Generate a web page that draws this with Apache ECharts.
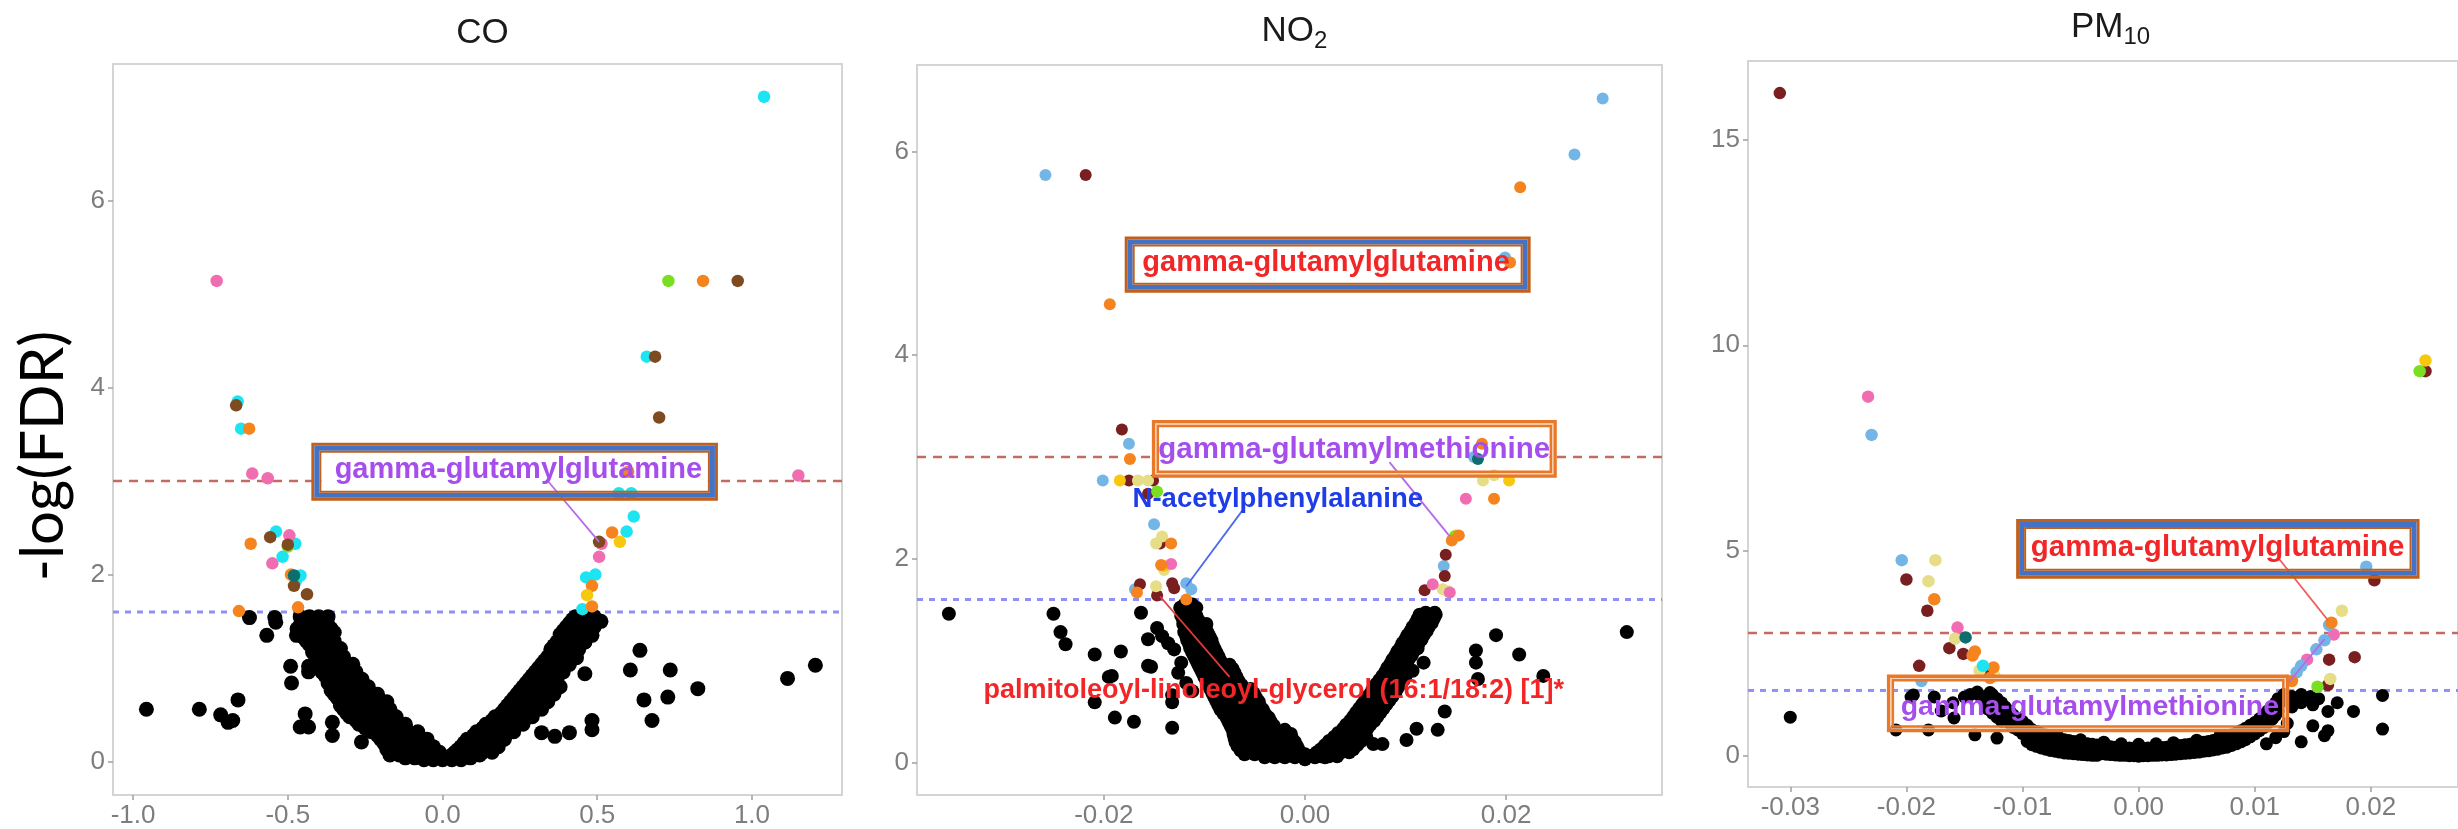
<!DOCTYPE html>
<html>
<head>
<meta charset="utf-8">
<script src="https://cdn.jsdelivr.net/npm/echarts@6/dist/echarts.min.js"></script>
<style>html,body{margin:0;padding:0;background:#fff;}#chart{width:2458px;height:829px;}</style>
</head>
<body>
<div id="chart"></div>
<script>
// ================= DATA =================
const titleParts = [['CO', ''], ['NO', '2'], ['PM', '10']];
const yAxisTitle = '-log(FDR)';
const coXTicks = [-1.0, -0.5, 0.0, 0.5, 1.0];
const coYTicks = [0, 2, 4, 6];
const no2XTicks = [-0.02, 0.00, 0.02];
const no2YTicks = [0, 2, 4, 6];
const pmXTicks = [-0.03, -0.02, -0.01, 0.00, 0.01, 0.02];
const pmYTicks = [0, 5, 10, 15];
const fdrThreshold = 3.0;
const pThreshold = 1.6;

// ---- CO ----
const coBlack = [
[-0.46,1.55],[-0.43,1.55],[-0.40,1.55],[-0.37,1.55],
[-0.45,1.50],[-0.42,1.50],[-0.39,1.50],
[-0.46,1.46],[-0.43,1.46],[-0.40,1.46],[-0.37,1.46],
[-0.47,1.42],[-0.44,1.42],[-0.41,1.42],[-0.38,1.42],[-0.36,1.42],
[-0.46,1.38],[-0.43,1.38],[-0.40,1.38],[-0.37,1.38],[-0.35,1.38],
[-0.45,1.33],[-0.42,1.33],[-0.39,1.33],[-0.36,1.33],
[-0.44,1.29],[-0.41,1.29],[-0.38,1.29],[-0.35,1.29],
[-0.43,1.25],[-0.40,1.25],[-0.37,1.25],[-0.35,1.25],
[-0.42,1.21],[-0.39,1.21],[-0.36,1.21],[-0.33,1.21],
[-0.42,1.17],[-0.39,1.17],[-0.36,1.17],[-0.34,1.17],
[-0.41,1.12],[-0.38,1.12],[-0.35,1.12],[-0.32,1.12],
[-0.40,1.08],[-0.37,1.08],[-0.34,1.08],[-0.32,1.08],
[-0.40,1.04],[-0.37,1.04],[-0.34,1.04],[-0.31,1.04],[-0.29,1.04],
[-0.39,1.00],[-0.36,1.00],[-0.33,1.00],[-0.31,1.00],
[-0.39,0.96],[-0.36,0.96],[-0.33,0.96],[-0.30,0.96],[-0.28,0.96],
[-0.38,0.92],[-0.35,0.92],[-0.32,0.92],[-0.30,0.92],
[-0.37,0.88],[-0.34,0.88],[-0.31,0.88],[-0.28,0.88],[-0.26,0.88],
[-0.37,0.84],[-0.34,0.84],[-0.31,0.84],[-0.28,0.84],
[-0.36,0.80],[-0.33,0.80],[-0.30,0.80],[-0.27,0.80],[-0.24,0.80],
[-0.36,0.76],[-0.33,0.76],[-0.30,0.76],[-0.27,0.76],[-0.25,0.76],
[-0.35,0.72],[-0.32,0.72],[-0.29,0.72],[-0.26,0.72],[-0.23,0.72],[-0.21,0.72],
[-0.34,0.68],[-0.31,0.68],[-0.28,0.68],[-0.25,0.68],[-0.22,0.68],
[-0.33,0.64],[-0.30,0.64],[-0.27,0.64],[-0.24,0.64],[-0.21,0.64],[-0.18,0.64],
[-0.33,0.60],[-0.30,0.60],[-0.27,0.60],[-0.24,0.60],[-0.20,0.60],
[-0.32,0.56],[-0.29,0.56],[-0.26,0.56],[-0.23,0.56],[-0.20,0.56],[-0.17,0.56],
[-0.31,0.52],[-0.28,0.52],[-0.25,0.52],[-0.22,0.52],[-0.18,0.52],
[-0.30,0.48],[-0.27,0.48],[-0.24,0.48],[-0.21,0.48],[-0.18,0.48],[-0.15,0.48],
[-0.28,0.44],[-0.25,0.44],[-0.22,0.44],[-0.19,0.44],[-0.15,0.44],
[-0.27,0.40],[-0.24,0.40],[-0.21,0.40],[-0.18,0.40],[-0.15,0.40],[-0.12,0.40],
[-0.25,0.36],[-0.22,0.36],[-0.19,0.36],[-0.16,0.36],[-0.12,0.36],
[-0.23,0.32],[-0.20,0.32],[-0.17,0.32],[-0.14,0.32],[-0.11,0.32],[-0.08,0.32],
[-0.21,0.28],[-0.18,0.28],[-0.15,0.28],[-0.12,0.28],[-0.09,0.28],
[-0.20,0.24],[-0.17,0.24],[-0.14,0.24],[-0.11,0.24],[-0.08,0.24],[-0.05,0.24],
[-0.19,0.20],[-0.16,0.20],[-0.13,0.20],[-0.10,0.20],[-0.07,0.20],
[-0.18,0.16],[-0.15,0.16],[-0.12,0.16],[-0.09,0.16],[-0.06,0.16],[-0.03,0.16],
[-0.18,0.13],[-0.15,0.13],[-0.12,0.13],[-0.09,0.13],[-0.06,0.13],[-0.04,0.13],
[-0.16,0.10],[-0.13,0.10],[-0.10,0.10],[-0.07,0.10],[-0.04,0.10],[-0.01,0.10],
[-0.17,0.07],[-0.14,0.07],[-0.11,0.07],[-0.08,0.07],[-0.05,0.07],[-0.03,0.07],
[-0.12,0.04],[-0.09,0.04],[-0.06,0.04],[-0.03,0.04],[0.00,0.04],[0.03,0.04],[0.06,0.04],[0.09,0.04],
[-0.06,0.02],[-0.03,0.02],[0.00,0.02],[0.03,0.02],[0.06,0.02],
[0.43,1.55],[0.46,1.55],[0.49,1.55],
[0.42,1.52],[0.45,1.52],[0.48,1.52],
[0.41,1.48],[0.44,1.48],[0.47,1.48],
[0.40,1.44],[0.43,1.44],[0.46,1.44],[0.49,1.44],
[0.39,1.40],[0.42,1.40],[0.45,1.40],
[0.38,1.36],[0.41,1.36],[0.44,1.36],[0.47,1.36],
[0.38,1.32],[0.41,1.32],[0.44,1.32],
[0.37,1.28],[0.40,1.28],[0.43,1.28],[0.46,1.28],
[0.36,1.24],[0.39,1.24],[0.42,1.24],
[0.35,1.20],[0.38,1.20],[0.41,1.20],[0.44,1.20],
[0.35,1.16],[0.38,1.16],[0.41,1.16],
[0.34,1.12],[0.37,1.12],[0.40,1.12],[0.43,1.12],
[0.33,1.08],[0.36,1.08],[0.39,1.08],
[0.32,1.04],[0.35,1.04],[0.38,1.04],[0.41,1.04],
[0.31,1.00],[0.34,1.00],[0.37,1.00],
[0.30,0.96],[0.33,0.96],[0.36,0.96],[0.39,0.96],
[0.29,0.92],[0.32,0.92],[0.35,0.92],
[0.28,0.88],[0.31,0.88],[0.34,0.88],[0.37,0.88],
[0.27,0.84],[0.30,0.84],[0.33,0.84],[0.36,0.84],
[0.26,0.80],[0.29,0.80],[0.32,0.80],[0.35,0.80],[0.38,0.80],
[0.25,0.76],[0.28,0.76],[0.31,0.76],[0.34,0.76],
[0.24,0.72],[0.27,0.72],[0.30,0.72],[0.33,0.72],[0.36,0.72],
[0.23,0.68],[0.26,0.68],[0.29,0.68],[0.32,0.68],
[0.22,0.64],[0.25,0.64],[0.28,0.64],[0.31,0.64],[0.34,0.64],
[0.21,0.60],[0.24,0.60],[0.27,0.60],[0.30,0.60],
[0.20,0.56],[0.23,0.56],[0.26,0.56],[0.29,0.56],[0.32,0.56],
[0.19,0.52],[0.22,0.52],[0.25,0.52],[0.28,0.52],
[0.17,0.48],[0.20,0.48],[0.23,0.48],[0.26,0.48],[0.29,0.48],
[0.16,0.44],[0.19,0.44],[0.22,0.44],[0.25,0.44],
[0.14,0.40],[0.17,0.40],[0.20,0.40],[0.23,0.40],[0.26,0.40],
[0.13,0.36],[0.16,0.36],[0.19,0.36],[0.22,0.36],
[0.11,0.32],[0.14,0.32],[0.17,0.32],[0.20,0.32],[0.23,0.32],
[0.10,0.28],[0.13,0.28],[0.16,0.28],[0.19,0.28],
[0.08,0.24],[0.11,0.24],[0.14,0.24],[0.17,0.24],[0.20,0.24],
[0.07,0.20],[0.10,0.20],[0.13,0.20],[0.16,0.20],
[0.06,0.16],[0.09,0.16],[0.12,0.16],[0.15,0.16],[0.18,0.16],
[0.05,0.13],[0.08,0.13],[0.11,0.13],[0.14,0.13],
[0.04,0.10],[0.07,0.10],[0.10,0.10],[0.13,0.10],[0.16,0.10],
[0.03,0.07],[0.06,0.07],[0.09,0.07],[0.12,0.07],
[-0.957,0.56],[-0.786,0.56],[-0.717,0.50],[-0.693,0.42],[-0.678,0.44],[-0.661,0.66],[-0.624,1.54],[-0.568,1.35],
[-0.542,1.54],[-0.539,1.49],[-0.491,1.02],[-0.488,0.84],[-0.433,1.02],[-0.433,0.96],[-0.472,1.35],
[-0.46,0.37],[-0.433,0.37],[-0.444,0.51],[-0.356,0.42],[-0.356,0.28],[-0.262,0.21],
[0.512,1.50],[0.483,1.35],[0.429,1.26],[0.46,1.28],[0.433,1.11],[0.46,0.94],[0.483,0.44],[0.483,0.34],
[0.41,0.31],[0.363,0.27],[0.32,0.31],[0.638,1.19],[0.607,0.98],[0.736,0.98],[0.651,0.66],[0.728,0.69],
[0.677,0.44],[0.825,0.78],[1.115,0.89],[1.205,1.03]
];
const coCyan = [[1.039,7.11],[0.660,4.33],[-0.662,3.85],[-0.651,3.56],[0.57,2.87],[0.61,2.87],[0.618,2.62],[0.595,2.46],
[-0.538,2.46],[-0.476,2.33],[-0.517,2.19],[-0.459,1.99],[-0.473,1.94],[0.464,1.97],[0.494,2.0],[0.452,1.63]];
const coPink = [[-0.730,5.14],[-0.615,3.08],[-0.565,3.03],[1.15,3.06],[-0.495,2.42],[-0.55,2.12],[0.514,2.33],[0.506,2.19]];
const coGreen = [[0.730,5.14],[-0.50,2.30]];
const coOrange = [[0.842,5.14],[-0.625,3.56],[-0.62,2.33],[0.60,3.10],[0.548,2.45],[-0.49,2.0],[0.483,1.88],[0.483,1.66],[-0.467,1.65],[-0.658,1.61]];
const coBrown = [[0.954,5.14],[0.687,4.33],[0.700,3.68],[-0.667,3.81],[-0.557,2.40],[-0.50,2.32],[-0.48,1.88],[-0.438,1.79],[0.506,2.35]];
const coYellow = [[0.573,2.35],[0.467,1.78]];
const coTeal = [[-0.48,1.99]];

// ---- NO2 ----
const no2Black = [
[-0.0120,1.55],[-0.0112,1.55],
[-0.0124,1.52],[-0.0116,1.52],[-0.0108,1.52],
[-0.0122,1.48],[-0.0114,1.48],
[-0.0123,1.44],[-0.0115,1.44],[-0.0108,1.44],
[-0.0121,1.40],[-0.0113,1.40],[-0.0106,1.40],
[-0.0121,1.36],[-0.0113,1.36],[-0.0105,1.36],[-0.0098,1.36],
[-0.0119,1.32],[-0.0111,1.32],[-0.0104,1.32],
[-0.0120,1.28],[-0.0112,1.28],[-0.0104,1.28],[-0.0097,1.28],
[-0.0118,1.24],[-0.0110,1.24],[-0.0102,1.24],[-0.0095,1.24],
[-0.0117,1.20],[-0.0109,1.20],[-0.0101,1.20],[-0.0093,1.20],
[-0.0115,1.16],[-0.0107,1.16],[-0.0099,1.16],[-0.0092,1.16],
[-0.0114,1.12],[-0.0106,1.12],[-0.0098,1.12],[-0.0090,1.12],
[-0.0112,1.08],[-0.0104,1.08],[-0.0096,1.08],[-0.0088,1.08],
[-0.0110,1.04],[-0.0102,1.04],[-0.0094,1.04],[-0.0086,1.04],
[-0.0108,1.00],[-0.0100,1.00],[-0.0092,1.00],[-0.0084,1.00],
[-0.0106,0.96],[-0.0098,0.96],[-0.0090,0.96],[-0.0082,0.96],[-0.0075,0.96],
[-0.0104,0.92],[-0.0096,0.92],[-0.0088,0.92],[-0.0080,0.92],[-0.0072,0.92],
[-0.0102,0.88],[-0.0094,0.88],[-0.0086,0.88],[-0.0078,0.88],[-0.0070,0.88],
[-0.0100,0.84],[-0.0092,0.84],[-0.0084,0.84],[-0.0076,0.84],[-0.0068,0.84],
[-0.0098,0.80],[-0.0090,0.80],[-0.0082,0.80],[-0.0074,0.80],[-0.0066,0.80],
[-0.0096,0.76],[-0.0088,0.76],[-0.0080,0.76],[-0.0072,0.76],[-0.0063,0.76],
[-0.0094,0.72],[-0.0086,0.72],[-0.0078,0.72],[-0.0070,0.72],[-0.0062,0.72],[-0.0054,0.72],
[-0.0092,0.68],[-0.0084,0.68],[-0.0076,0.68],[-0.0068,0.68],[-0.0059,0.68],[-0.0051,0.68],
[-0.0090,0.64],[-0.0082,0.64],[-0.0074,0.64],[-0.0066,0.64],[-0.0058,0.64],[-0.0049,0.64],
[-0.0088,0.60],[-0.0080,0.60],[-0.0072,0.60],[-0.0064,0.60],[-0.0055,0.60],[-0.0046,0.60],
[-0.0086,0.56],[-0.0078,0.56],[-0.0070,0.56],[-0.0062,0.56],[-0.0054,0.56],[-0.0045,0.56],
[-0.0084,0.52],[-0.0076,0.52],[-0.0068,0.52],[-0.0060,0.52],[-0.0051,0.52],[-0.0042,0.52],
[-0.0081,0.48],[-0.0073,0.48],[-0.0065,0.48],[-0.0057,0.48],[-0.0049,0.48],[-0.0040,0.48],
[-0.0078,0.44],[-0.0070,0.44],[-0.0062,0.44],[-0.0054,0.44],[-0.0046,0.44],[-0.0036,0.44],
[-0.0076,0.40],[-0.0068,0.40],[-0.0060,0.40],[-0.0052,0.40],[-0.0044,0.40],[-0.0034,0.40],
[-0.0074,0.36],[-0.0066,0.36],[-0.0058,0.36],[-0.0050,0.36],[-0.0041,0.36],[-0.0031,0.36],
[-0.0072,0.32],[-0.0064,0.32],[-0.0056,0.32],[-0.0048,0.32],[-0.0039,0.32],[-0.0029,0.32],[-0.0020,0.32],
[-0.0071,0.28],[-0.0063,0.28],[-0.0055,0.28],[-0.0046,0.28],[-0.0036,0.28],[-0.0025,0.28],[-0.0014,0.28],
[-0.0070,0.24],[-0.0062,0.24],[-0.0053,0.24],[-0.0044,0.24],[-0.0034,0.24],[-0.0024,0.24],[-0.0013,0.24],
[-0.0069,0.20],[-0.0060,0.20],[-0.0051,0.20],[-0.0041,0.20],[-0.0031,0.20],[-0.0020,0.20],[-0.0010,0.20],
[-0.0067,0.16],[-0.0058,0.16],[-0.0048,0.16],[-0.0038,0.16],[-0.0028,0.16],[-0.0018,0.16],[-0.0008,0.16],
[-0.0064,0.12],[-0.0055,0.12],[-0.0045,0.12],[-0.0035,0.12],[-0.0025,0.12],[-0.0015,0.12],[-0.0006,0.12],
[-0.0060,0.08],[-0.0050,0.08],[-0.0040,0.08],[-0.0030,0.08],[-0.0020,0.08],[-0.0010,0.08],[0.0000,0.08],[0.0010,0.08],
[-0.0040,0.05],[-0.0030,0.05],[-0.0020,0.05],[-0.0010,0.05],[0.0000,0.03],[0.0010,0.05],[0.0020,0.05],
[0.0114,1.45],[0.0122,1.45],[0.0130,1.45],
[0.0112,1.41],[0.0120,1.41],[0.0128,1.41],
[0.0110,1.37],[0.0118,1.37],[0.0126,1.37],
[0.0107,1.33],[0.0115,1.33],[0.0123,1.33],
[0.0105,1.29],[0.0113,1.29],[0.0121,1.29],
[0.0102,1.25],[0.0110,1.25],[0.0118,1.25],
[0.0100,1.21],[0.0108,1.21],[0.0116,1.21],
[0.0097,1.17],[0.0105,1.17],[0.0113,1.17],
[0.0095,1.13],[0.0103,1.13],[0.0111,1.13],
[0.0092,1.09],[0.0100,1.09],[0.0108,1.09],
[0.0090,1.05],[0.0098,1.05],[0.0106,1.05],
[0.0087,1.01],[0.0095,1.01],[0.0103,1.01],
[0.0085,0.97],[0.0093,0.97],[0.0101,0.97],
[0.0082,0.93],[0.0090,0.93],[0.0098,0.93],
[0.0080,0.89],[0.0088,0.89],[0.0096,0.89],
[0.0077,0.85],[0.0085,0.85],[0.0093,0.85],[0.0100,0.85],
[0.0074,0.81],[0.0082,0.81],[0.0090,0.81],[0.0098,0.81],
[0.0071,0.77],[0.0079,0.77],[0.0087,0.77],[0.0095,0.77],
[0.0068,0.73],[0.0076,0.73],[0.0084,0.73],[0.0092,0.73],
[0.0066,0.69],[0.0074,0.69],[0.0082,0.69],[0.0090,0.69],
[0.0063,0.65],[0.0071,0.65],[0.0079,0.65],[0.0087,0.65],
[0.0060,0.61],[0.0068,0.61],[0.0076,0.61],[0.0084,0.61],
[0.0057,0.57],[0.0065,0.57],[0.0073,0.57],[0.0081,0.57],
[0.0054,0.53],[0.0062,0.53],[0.0070,0.53],[0.0078,0.53],
[0.0051,0.49],[0.0059,0.49],[0.0067,0.49],[0.0075,0.49],
[0.0048,0.45],[0.0056,0.45],[0.0064,0.45],[0.0072,0.45],
[0.0045,0.41],[0.0053,0.41],[0.0061,0.41],[0.0069,0.41],
[0.0041,0.37],[0.0049,0.37],[0.0057,0.37],[0.0065,0.37],
[0.0038,0.33],[0.0046,0.33],[0.0054,0.33],[0.0062,0.33],
[0.0033,0.29],[0.0041,0.29],[0.0049,0.29],[0.0057,0.29],
[0.0029,0.25],[0.0037,0.25],[0.0045,0.25],[0.0053,0.25],[0.0061,0.25],
[0.0024,0.21],[0.0032,0.21],[0.0040,0.21],[0.0048,0.21],[0.0056,0.21],
[0.0020,0.17],[0.0028,0.17],[0.0036,0.17],[0.0044,0.17],[0.0052,0.17],
[0.0016,0.13],[0.0024,0.13],[0.0032,0.13],[0.0040,0.13],[0.0048,0.13],
[0.0012,0.10],[0.0020,0.10],[0.0028,0.10],[0.0036,0.10],[0.0044,0.10],
[0.0008,0.06],[0.0016,0.06],[0.0024,0.06],[0.0032,0.06],
[-0.0354,1.46],[-0.0250,1.46],[-0.0243,1.28],[-0.0238,1.16],[-0.0209,1.06],[-0.0183,1.09],[-0.0163,1.47],
[-0.0156,0.95],[-0.0192,0.85],[-0.0209,0.59],[-0.0189,0.44],[-0.0170,0.40],[-0.0132,0.34],[-0.0132,0.59],
[-0.0132,0.66],[-0.0147,1.32],[-0.0142,1.24],[-0.0156,1.21],[-0.0130,1.11],[-0.0123,0.98],[-0.0136,1.17],
[-0.0126,0.88],[-0.0118,0.78],[-0.0112,0.70],[-0.0153,0.94],[-0.0195,0.84],
[0.0320,1.28],[0.0190,1.25],[0.0213,1.06],[0.0170,1.10],[0.0170,0.98],[0.0172,0.82],[0.0237,0.85],
[0.0139,0.50],[0.0132,0.32],[0.0111,0.33],[0.0068,0.18],[0.0077,0.18],[0.0101,0.22],[0.0118,0.98],
[0.0107,0.90],[0.0120,1.47],[0.0129,1.47],[0.0112,1.12],[0.0118,1.26]
];
const no2LightBlue = [[0.0296,6.52],[-0.0258,5.77],[0.0268,5.97],[0.0199,4.96],[-0.0175,3.13],[-0.0201,2.77],[-0.0150,2.34],
[-0.0169,1.70],[-0.0118,1.76],[-0.0113,1.70],[0.0138,1.93],[0.0168,3.00]];
const no2DarkRed = [[-0.0218,5.77],[-0.0182,3.27],[-0.0175,2.77],[-0.0151,2.77],[-0.0156,2.64],[-0.0144,2.15],[-0.0164,1.75],
[-0.0147,1.64],[-0.0132,1.76],[-0.0130,1.71],[0.0119,1.69],[0.0139,1.83],[0.0140,2.04]];
const no2Orange = [[0.0214,5.65],[0.0204,4.91],[-0.0194,4.50],[-0.0174,2.98],[-0.0133,2.15],[-0.0143,1.94],[-0.0167,1.67],
[-0.0118,1.60],[0.0146,2.18],[0.0176,3.13],[0.0188,2.59],[0.0153,2.23]];
const no2Yellow = [[-0.0184,2.77],[-0.0140,1.93],[0.0150,2.23],[0.0203,2.77]];
const no2Khaki = [[-0.0166,2.77],[-0.0156,2.77],[-0.0142,2.22],[-0.0148,2.15],[-0.0140,1.89],[-0.0148,1.73],[0.0137,1.70],
[0.0142,1.68],[0.0177,2.77],[0.0188,2.82]];
const no2Green = [[-0.0147,2.66],[0.0149,2.22]];
const no2Pink = [[-0.0133,1.95],[0.0127,1.75],[0.0144,1.67],[0.0160,2.59]];
const no2Teal = [[0.0172,2.98]];

// ---- PM10 ----
const pmBlack = [
[-0.0130,1.45],[-0.0130,1.30],[-0.0130,1.15],
[-0.0126,1.50],[-0.0126,1.35],[-0.0126,1.20],[-0.0126,1.05],
[-0.0122,1.40],[-0.0122,1.25],[-0.0122,1.10],[-0.0122,0.95],
[-0.0118,1.30],[-0.0118,1.15],[-0.0118,1.00],[-0.0118,0.85],
[-0.0115,1.20],[-0.0115,1.05],[-0.0115,0.90],
[-0.0111,1.10],[-0.0111,0.95],[-0.0111,0.80],
[-0.0108,1.00],[-0.0108,0.85],[-0.0108,0.70],
[-0.0104,0.92],[-0.0104,0.78],[-0.0104,0.64],
[-0.0100,0.85],[-0.0100,0.70],[-0.0100,0.55],
[-0.0096,0.75],[-0.0096,0.62],[-0.0096,0.48],[-0.0096,0.36],
[-0.0092,0.65],[-0.0092,0.52],[-0.0092,0.40],[-0.0092,0.28],
[-0.0088,0.60],[-0.0088,0.47],[-0.0088,0.35],[-0.0088,0.24],
[-0.0084,0.55],[-0.0084,0.42],[-0.0084,0.30],[-0.0084,0.20],
[-0.0080,0.52],[-0.0080,0.39],[-0.0080,0.27],[-0.0080,0.17],
[-0.0076,0.48],[-0.0076,0.36],[-0.0076,0.24],[-0.0076,0.14],
[-0.0072,0.45],[-0.0072,0.33],[-0.0072,0.21],[-0.0072,0.12],
[-0.0068,0.42],[-0.0068,0.30],[-0.0068,0.19],[-0.0068,0.10],
[-0.0064,0.40],[-0.0064,0.28],[-0.0064,0.17],[-0.0064,0.08],
[-0.0060,0.38],[-0.0060,0.26],[-0.0060,0.15],[-0.0060,0.07],
[-0.0056,0.36],[-0.0056,0.24],[-0.0056,0.13],[-0.0056,0.06],
[-0.0052,0.33],[-0.0052,0.22],[-0.0052,0.12],[-0.0052,0.05],
[-0.0048,0.32],[-0.0048,0.21],[-0.0048,0.10],[-0.0048,0.04],
[-0.0044,0.30],[-0.0044,0.19],[-0.0044,0.09],[-0.0044,0.03],
[-0.0040,0.29],[-0.0040,0.18],[-0.0040,0.08],[-0.0040,0.02],
[-0.0036,0.27],[-0.0036,0.16],[-0.0036,0.07],[-0.0036,0.02],
[-0.0032,0.26],[-0.0032,0.15],[-0.0032,0.06],
[-0.0028,0.24],[-0.0028,0.14],[-0.0028,0.05],
[-0.0024,0.23],[-0.0024,0.13],[-0.0024,0.04],
[-0.0020,0.22],[-0.0020,0.12],[-0.0020,0.03],
[-0.0016,0.21],[-0.0016,0.11],[-0.0016,0.02],
[-0.0012,0.20],[-0.0012,0.10],[-0.0012,0.02],
[-0.0008,0.20],[-0.0008,0.10],[-0.0008,0.01],
[-0.0004,0.19],[-0.0004,0.09],[-0.0004,0.01],
[0.0000,0.20],[0.0000,0.10],[0.0000,0.00],
[0.0004,0.19],[0.0004,0.09],[0.0004,0.01],
[0.0008,0.20],[0.0008,0.10],[0.0008,0.01],
[0.0012,0.20],[0.0012,0.10],[0.0012,0.02],
[0.0016,0.21],[0.0016,0.11],[0.0016,0.02],
[0.0020,0.21],[0.0020,0.11],[0.0020,0.03],
[0.0024,0.22],[0.0024,0.12],[0.0024,0.03],
[0.0028,0.23],[0.0028,0.13],[0.0028,0.04],
[0.0032,0.25],[0.0032,0.14],[0.0032,0.05],
[0.0036,0.26],[0.0036,0.15],[0.0036,0.06],
[0.0040,0.28],[0.0040,0.17],[0.0040,0.07],
[0.0044,0.29],[0.0044,0.18],[0.0044,0.08],
[0.0048,0.31],[0.0048,0.20],[0.0048,0.09],
[0.0052,0.32],[0.0052,0.21],[0.0052,0.10],
[0.0056,0.34],[0.0056,0.23],[0.0056,0.12],
[0.0060,0.36],[0.0060,0.24],[0.0060,0.13],
[0.0064,0.38],[0.0064,0.27],[0.0064,0.15],
[0.0068,0.41],[0.0068,0.29],[0.0068,0.17],
[0.0072,0.44],[0.0072,0.32],[0.0072,0.20],
[0.0076,0.48],[0.0076,0.35],[0.0076,0.22],
[0.0080,0.52],[0.0080,0.39],[0.0080,0.26],
[0.0084,0.56],[0.0084,0.43],[0.0084,0.30],
[0.0088,0.62],[0.0088,0.48],[0.0088,0.35],
[0.0092,0.68],[0.0092,0.54],[0.0092,0.40],
[0.0096,0.75],[0.0096,0.61],[0.0096,0.47],
[0.0100,0.82],[0.0100,0.68],[0.0100,0.54],
[0.0104,0.91],[0.0104,0.77],[0.0104,0.62],
[0.0108,1.00],[0.0108,0.85],[0.0108,0.70],
[0.0111,1.10],[0.0111,0.95],[0.0111,0.80],
[0.0115,1.20],[0.0115,1.05],[0.0115,0.90],
[0.0118,1.30],[0.0118,1.15],[0.0118,1.00],
[0.0120,1.40],[0.0120,1.25],[0.0120,1.10],
[0.0125,1.50],[0.0125,1.35],
[-0.0070,0.50],[-0.0050,0.40],[-0.0030,0.34],[-0.0015,0.30],[0.0000,0.29],[0.0015,0.30],[0.0030,0.33],[0.0050,0.39],[0.0070,0.50],
[-0.0300,0.95],[-0.0196,1.44],[-0.0176,1.44],[-0.0150,1.44],[-0.0145,1.50],[-0.0137,1.48],[-0.0139,1.56],
[-0.0128,1.55],[-0.0209,0.64],[-0.0181,0.64],[-0.0159,0.93],[-0.0141,0.52],[-0.0122,0.44],[-0.0170,1.10],
[-0.0160,1.30],[-0.0194,1.49],
[0.0132,1.45],[0.0140,1.50],[0.0148,1.45],[0.0155,1.40],[0.0140,1.30],[0.0150,1.25],[0.0132,1.20],
[0.0171,1.30],[0.0163,1.09],[0.0185,1.09],[0.0210,1.48],[0.0210,0.66],[0.0150,0.74],[0.0163,0.62],
[0.0160,0.50],[0.0140,0.35],[0.0128,0.80],[0.0125,0.60],[0.0118,0.45],[0.0110,0.30]
];
const pmDarkRed = [[-0.0309,16.14],[0.0247,9.37],[-0.0200,4.30],[-0.0182,3.54],[-0.0163,2.63],[-0.0151,2.49],[-0.0189,2.20],
[-0.0132,2.10],[0.0203,4.28],[0.0186,2.41],[0.0164,2.35],[0.0163,1.73]];
const pmPink = [[-0.0233,8.75],[-0.0156,3.13],[0.0168,2.96],[0.0145,2.35]];
const pmLightBlue = [[-0.0230,7.82],[-0.0204,4.77],[0.0196,4.61],[0.0164,3.19],[0.0160,2.82],[0.0140,2.20],[0.0136,2.04],
[-0.0187,1.83],[0.0153,2.60]];
const pmYellow = [[0.0247,9.63]];
const pmGreen = [[0.0242,9.37],[0.0154,1.69]];
const pmKhaki = [[-0.0175,4.77],[-0.0181,4.26],[-0.0158,2.86],[-0.0137,2.08],[0.0175,3.54],[0.0165,1.88],[-0.0124,1.95]];
const pmOrange = [[-0.0176,3.82],[-0.0143,2.45],[-0.0141,2.55],[-0.0125,2.16],[0.0166,3.25],[0.0132,1.83],[-0.0128,1.90]];
const pmTeal = [[-0.0149,2.89]];
const pmCyan = [[-0.0134,2.20]];

// annotation texts (positions in data units of each panel)
const annotations = [
  {panel:0, text:'gamma-glutamylglutamine', x:0.245, y:3.12, color:'#A64DED', size:29, box:[-0.424,2.79,0.890,3.41], frame:'blue'},
  {panel:1, text:'gamma-glutamylglutamine', x:0.0021, y:4.91, color:'#F22626', size:29, box:[-0.01792,4.614,0.02244,5.165], frame:'blue'},
  {panel:1, text:'gamma-glutamylmethionine', x:0.0049, y:3.07, color:'#A64DED', size:29.5, box:[-0.01522,2.796,0.02504,3.363], frame:'orange'},
  {panel:1, text:'N-acetylphenylalanine', x:-0.0027, y:2.58, color:'#1E3CE8', size:27.5},
  {panel:1, text:'palmitoleoyl-linoleoyl-glycerol (16:1/18:2) [1]*', x:-0.0031, y:0.71, color:'#F22626', size:27},
  {panel:2, text:'gamma-glutamylglutamine', x:0.0068, y:5.06, color:'#F22626', size:29.5, box:[-0.01055,4.32,0.02419,5.77], frame:'blue'},
  {panel:2, text:'gamma-glutamylmethionine', x:-0.0042, y:1.19, color:'#A64DED', size:28.5, box:[-0.02168,0.58,0.01297,1.99], frame:'orange', noFill:true}
];
const connectors = [
  {panel:0, color:'#B56BEA', pts:[[0.343,2.99],[0.506,2.35]]},
  {panel:1, color:'#4A6BEE', pts:[[-0.0061,2.49],[-0.0118,1.73]]},
  {panel:1, color:'#E23A3A', pts:[[-0.0144,1.63],[-0.0075,0.84]]},
  {panel:1, color:'#B56BEA', pts:[[0.0084,2.95],[0.0144,2.22]]},
  {panel:2, color:'#F05A5A', pts:[[0.0121,4.80],[0.0163,3.31]]},
  {panel:2, color:'#B56BEA', pts:[[0.0128,1.75],[0.0160,2.85]]}
];

// ================= STYLE / LAYOUT =================
const palette = {
  cyan:'#1DE4F2', pink:'#F06DB2', green:'#7ADF22', orange:'#F5841F', brown:'#7E4A20', yellow:'#F8C80E',
  teal:'#0E6E6E', lightblue:'#73B6E6', darkred:'#7A1F1F', khaki:'#E5DE86'
};
const panels = [
  {black: coBlack, groups: {cyan:coCyan, pink:coPink, green:coGreen, orange:coOrange, brown:coBrown, yellow:coYellow, teal:coTeal},
   xTicks: coXTicks, yTicks: coYTicks, dec:1},
  {black: no2Black, groups: {lightblue:no2LightBlue, darkred:no2DarkRed, khaki:no2Khaki, yellow:no2Yellow, green:no2Green, pink:no2Pink, teal:no2Teal, orange:no2Orange},
   xTicks: no2XTicks, yTicks: no2YTicks, dec:2},
  {black: pmBlack, groups: {darkred:pmDarkRed, pink:pmPink, lightblue:pmLightBlue, khaki:pmKhaki, orange:pmOrange, teal:pmTeal, cyan:pmCyan, green:pmGreen, yellow:pmYellow},
   xTicks: pmXTicks, yTicks: pmYTicks, dec:2}
];
const layout = [
  {left:113, top:64, width:729, height:736, xRange:[-1.065,1.291], yRange:[-0.357,7.46], blackSize:15, colorSize:12.5, titleTop:6},
  {left:917, top:65, width:745, height:741, xRange:[-0.03857,0.0355], yRange:[-0.32,6.85], blackSize:14, colorSize:12, titleTop:4},
  {left:1748, top:61, width:715, height:726, xRange:[-0.03364,0.0275], yRange:[-0.75,16.92], blackSize:13, colorSize:12.5, titleTop:0}
];
const FONT = 'Liberation Sans';

const chart = echarts.init(document.getElementById('chart'), null, {renderer:'canvas', width:2458, height:829});

const grid = [], xAxis = [], yAxis = [], series = [], title = [];
panels.forEach((p, i) => {
  const L = layout[i];
  grid.push({left:L.left, top:L.top, width:L.width, height:L.height, show:true, borderColor:'#d4d4d4', borderWidth:2, backgroundColor:'#fff'});
  xAxis.push({
    gridIndex:i, type:'value', min:L.xRange[0], max:L.xRange[1], position:'bottom',
    axisLine:{show:false, onZero:false}, splitLine:{show:false},
    axisTick:{show:true, customValues:p.xTicks, length:5, lineStyle:{color:'#a0a0a0', width:1.5}},
    axisLabel:{customValues:p.xTicks, formatter:v => Number(v).toFixed(p.dec), color:'#7d7d7d', fontSize:26, fontFamily:FONT, margin:8}
  });
  yAxis.push({
    gridIndex:i, type:'value', min:L.yRange[0], max:L.yRange[1], position:'left',
    axisLine:{show:false, onZero:false}, splitLine:{show:false},
    axisTick:{show:true, customValues:p.yTicks, length:5, lineStyle:{color:'#a0a0a0', width:1.5}},
    axisLabel:{customValues:p.yTicks, formatter:v => String(v), color:'#7d7d7d', fontSize:26, fontFamily:FONT, margin:8}
  });
  const tp = titleParts[i];
  title.push({
    text: tp[1] ? '{a|' + tp[0] + '}{b|' + tp[1] + '}' : '{a|' + tp[0] + '}',
    left: L.left + L.width / 2, top: L.titleTop, textAlign:'center',
    textStyle:{fontWeight:'normal', rich:{
      a:{fontSize:35, fontFamily:FONT, fontWeight:'normal', color:'#1a1a1a', lineHeight:44},
      b:{fontSize:24, fontFamily:FONT, fontWeight:'normal', color:'#1a1a1a', lineHeight:24, verticalAlign:'bottom'}
    }}
  });
  series.push({type:'line', xAxisIndex:i, yAxisIndex:i, silent:true, symbol:'none', z:1,
    data:[[L.xRange[0], fdrThreshold],[L.xRange[1], fdrThreshold]],
    lineStyle:{color:'#C46A62', width:2.5, type:[9,7]}});
  series.push({type:'line', xAxisIndex:i, yAxisIndex:i, silent:true, symbol:'none', z:1,
    data:[[L.xRange[0], pThreshold],[L.xRange[1], pThreshold]],
    lineStyle:{color:'#8F8FF5', width:3, type:[6,6]}});
  series.push({type:'scatter', xAxisIndex:i, yAxisIndex:i, data:p.black, symbolSize:L.blackSize, silent:true, z:3,
    itemStyle:{color:'#000', opacity:1}});
  Object.keys(p.groups).forEach(k => {
    series.push({type:'scatter', xAxisIndex:i, yAxisIndex:i, data:p.groups[k], symbolSize:L.colorSize, silent:true, z:4,
      itemStyle:{color:palette[k], opacity:1}});
  });
});
connectors.forEach(c => {
  series.push({type:'line', xAxisIndex:c.panel, yAxisIndex:c.panel, data:c.pts, symbol:'none', silent:true, z:6,
    lineStyle:{color:c.color, width:1.8}});
});

chart.setOption({animation:false, backgroundColor:'#fff', title, grid, xAxis, yAxis, series});

// ---- annotation boxes and texts ----
const frames = {
  blue: [['#C0601C',3],['#4472C4',5],['#C0601C',2]],
  orange: [['#E8782A',3.5],['#F9D2B4',1.2],['#E8782A',2.5]]
};
const elements = [];
annotations.forEach(a => {
  if (a.box) {
    const p0 = chart.convertToPixel({gridIndex:a.panel}, [a.box[0], a.box[3]]);
    const p1 = chart.convertToPixel({gridIndex:a.panel}, [a.box[2], a.box[1]]);
    const x = p0[0], y = p0[1], w = p1[0] - p0[0], h = p1[1] - p0[1];
    let off = 0;
    frames[a.frame].forEach(([col, lw]) => {
      const ins = off + lw / 2;
      elements.push({type:'rect', silent:true, z:10,
        shape:{x:x + ins, y:y + ins, width:w - 2 * ins, height:h - 2 * ins},
        style:{fill:'none', stroke:col, lineWidth:lw}});
      off += lw;
    });
    if (!a.noFill) {
      elements.push({type:'rect', silent:true, z:2,
        shape:{x:x + off, y:y + off, width:w - 2 * off, height:h - 2 * off},
        style:{fill:'#ffffff'}});
    }
  }
  const c = chart.convertToPixel({gridIndex:a.panel}, [a.x, a.y]);
  elements.push({type:'text', silent:true, z:11, x:c[0], y:c[1],
    style:{text:a.text, fill:a.color, fontSize:a.size, fontWeight:'bold', fontFamily:FONT,
      align:'center', verticalAlign:'middle', textAlign:'center', textVerticalAlign:'middle'}});
});
elements.push({type:'text', silent:true, z:11, x:44, y:456, rotation:Math.PI / 2,
  style:{text:yAxisTitle, fill:'#000', fontSize:60, fontFamily:'Lato',
    align:'center', verticalAlign:'middle', textAlign:'center', textVerticalAlign:'middle'}});
chart.setOption({graphic:{elements}});
</script>
</body>
</html>
